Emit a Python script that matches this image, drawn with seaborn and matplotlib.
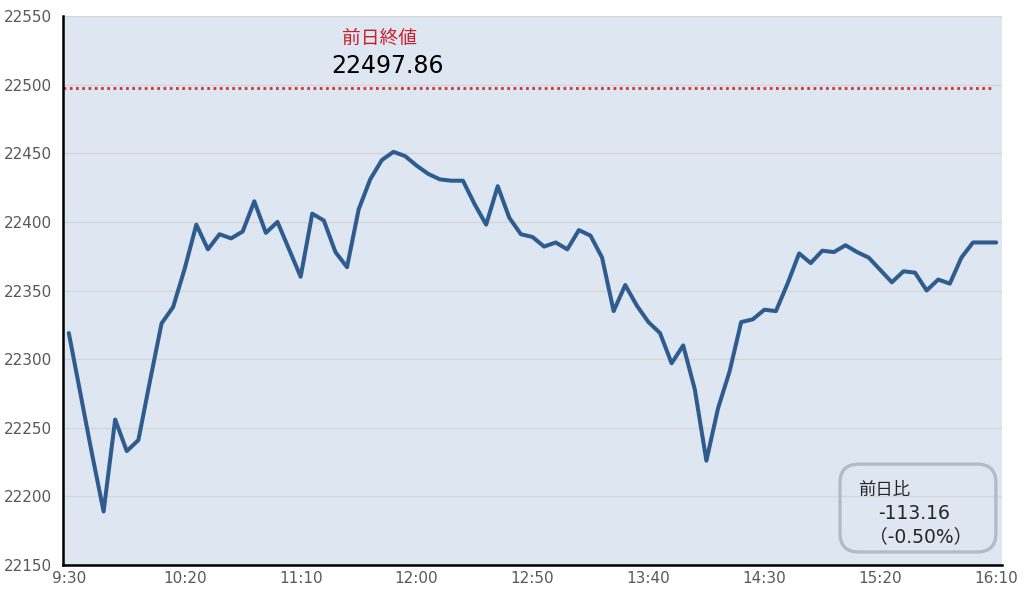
import numpy as np
import pandas as pd
import seaborn as sns
import matplotlib.pyplot as plt
from matplotlib.patches import FancyBboxPatch

# 5-minute prices, 9:30 - 16:10
prices = [22319, 22275, 22231, 22189, 22256, 22233, 22241, 22284, 22326, 22338,
          22366, 22398, 22380, 22391, 22388, 22393, 22415, 22392, 22400, 22380,
          22360, 22406, 22401, 22378, 22367, 22409, 22431, 22445, 22451, 22448,
          22441, 22435, 22431, 22430, 22430, 22413, 22398, 22426, 22403, 22391,
          22389, 22382, 22385, 22380, 22394, 22390, 22374, 22335, 22354, 22339,
          22327, 22319, 22297, 22310, 22278, 22226, 22264, 22291, 22327, 22329,
          22336, 22335, 22355, 22377, 22370, 22379, 22378, 22383, 22378, 22374,
          22365, 22356, 22364, 22363, 22350, 22358, 22355, 22374, 22385, 22385,
          22385]
time_labels = ["9:30", "10:20", "11:10", "12:00", "12:50", "13:40", "14:30", "15:20", "16:10"]
prev_close = 22497.86
change = -113.16
change_pct = -0.50

df = pd.DataFrame({"idx": np.arange(len(prices)), "price": prices})

sns.set_style("white")
plt.rcParams['font.family'] = ['DejaVu Sans', 'Noto Sans CJK JP']

fig = plt.figure(figsize=(10.28, 5.95), dpi=100)
ax = fig.add_axes([0.0613, 0.0504, 0.9134, 0.9227])
ax.set_facecolor("#dde6f1")

sns.lineplot(data=df, x="idx", y="price", ax=ax, color="#2f5c8f", linewidth=2.9)
ax.axhline(prev_close, color="#d03535", linestyle=(0, (1, 1.25)), linewidth=2, xmax=0.988)

ax.set_xlim(-0.5, 80.5)
ax.set_ylim(22150, 22550)
ax.set_yticks(np.arange(22150, 22551, 50))
ax.set_xticks(np.arange(0, 81, 10))
ax.set_xticklabels(time_labels)
ax.set_xticks(list(np.arange(4.5, 80, 10)) + [79.5], minor=True)
ax.grid(axis="y", color="#d6d6d6", linewidth=1)
ax.set_axisbelow(True)
ax.set_xlabel("")
ax.set_ylabel("")

ax.tick_params(axis="x", which="major", length=0, pad=4, labelsize=11, labelcolor="#595959")
ax.tick_params(axis="x", which="minor", direction="in", length=3, width=1.2, color="black")
ax.tick_params(axis="y", direction="in", length=3, width=1.2, pad=8, labelsize=11,
               labelcolor="#595959", color="black")

for s in ["top", "right"]:
    ax.spines[s].set_visible(False)
for s in ["left", "bottom"]:
    ax.spines[s].set_color("black")
    ax.spines[s].set_linewidth(1.8)

# previous close label
ax.text(26.8, 22534, "前日終値", color="#c8202a", fontsize=13.5, ha="center", va="center",
        family=['Noto Sans CJK JP', 'DejaVu Sans'])
ax.text(27.5, 22513.5, f"{prev_close:.2f}", color="black", fontsize=17, ha="center", va="center")

# change box
box = FancyBboxPatch((0.8275, 0.0237), 0.166, 0.16, boxstyle="round,pad=0,rounding_size=0.02",
                     transform=ax.transAxes, facecolor="none", edgecolor="#b3bcc6", linewidth=2.4,
                     mutation_aspect=1.7)
ax.add_patch(box)
ax.text(0.8466, 0.1366, "前日比", transform=ax.transAxes, fontsize=12.5, va="center", ha="left",
        family=['Noto Sans CJK JP', 'DejaVu Sans'])
ax.text(0.868, 0.0947, f"{change:.2f}", transform=ax.transAxes, fontsize=13.5, va="center", ha="left")
ax.text(0.858, 0.051, f"（{change_pct:.2f}%）", transform=ax.transAxes, fontsize=13.5, va="center", ha="left")

plt.savefig("out.png", dpi=100)
